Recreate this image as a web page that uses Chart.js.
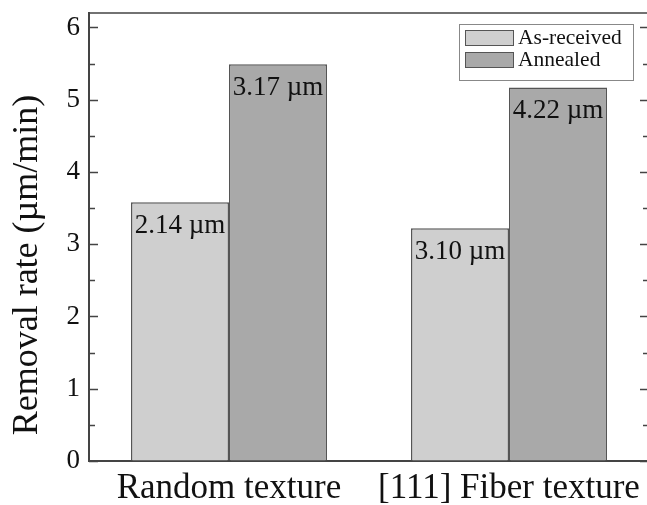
<!DOCTYPE html>
<html>
<head>
<meta charset="utf-8">
<script src="https://cdn.jsdelivr.net/npm/chart.js@4"></script>
<style>
  html, body { margin: 0; padding: 0; overflow: hidden; background: #fff; }
  canvas { display: block; }
</style>
</head>
<body>
<canvas id="myChart" width="652" height="505"></canvas>
<script>
// datos del grafico
const categories = ['Random texture', '[111] Fiber texture'];
const seriesNames = ['As-received', 'Annealed'];
const asReceived = [3.58, 3.22];
const annealed = [5.49, 5.17];
const asReceivedLabels = ['2.14 \u00b5m', '3.10 \u00b5m'];
const annealedLabels = ['3.17 \u00b5m', '4.22 \u00b5m'];
const yTicks = [0, 1, 2, 3, 4, 5, 6];
const yTitle = 'Removal rate (\u00b5m/min)';

const serif = '"Liberation Serif", "Times New Roman", serif';
const axisColor = '#444';

// ticks hacia adentro, marco, titulo del eje y, leyenda y etiquetas de las barras
const extras = {
    id: 'extras',
    afterDraw(chart) {
        const ctx = chart.ctx;
        const area = chart.chartArea;
        const y = chart.scales.y;
        ctx.save();

        // marco superior y derecho
        ctx.strokeStyle = axisColor;
        ctx.lineWidth = 1.5;
        ctx.beginPath();
        ctx.moveTo(area.left, area.top);
        ctx.lineTo(area.right, area.top);
        ctx.lineTo(area.right, area.bottom);
        ctx.stroke();

        // ticks mayores y menores
        for (let v = 0; v <= 6; v += 0.5) {
            const py = Math.round(y.getPixelForValue(v)) + 0.5;
            const len = Number.isInteger(v) ? 9 : 6;
            ctx.beginPath();
            ctx.moveTo(area.left, py);
            ctx.lineTo(area.left + len, py);
            ctx.moveTo(area.right, py);
            ctx.lineTo(area.right - len, py);
            ctx.stroke();
        }

        // titulo del eje y
        ctx.fillStyle = '#111';
        ctx.font = '36px ' + serif;
        ctx.textAlign = 'center';
        ctx.textBaseline = 'middle';
        ctx.translate(28, 265);
        ctx.rotate(-Math.PI / 2);
        ctx.fillText(yTitle, 0, 0);
        ctx.setTransform(1, 0, 0, 1, 0, 0);

        // etiquetas dentro de las barras
        const allLabels = [asReceivedLabels, annealedLabels];
        ctx.font = '27px ' + serif;
        ctx.textAlign = 'center';
        ctx.textBaseline = 'alphabetic';
        chart.data.datasets.forEach((ds, i) => {
            chart.getDatasetMeta(i).data.forEach((bar, j) => {
                ctx.fillText(allLabels[i][j], bar.x, bar.y + 31);
            });
        });

        // leyenda
        const lx = 459, ly = 24, lw = 174, lh = 56;
        ctx.fillStyle = '#fff';
        ctx.fillRect(lx, ly, lw, lh);
        ctx.strokeStyle = '#888';
        ctx.lineWidth = 1;
        ctx.strokeRect(lx + 0.5, ly + 0.5, lw, lh);
        ctx.font = '21.5px ' + serif;
        ctx.textAlign = 'left';
        ctx.textBaseline = 'middle';
        chart.data.datasets.forEach((ds, i) => {
            const ry = ly + 6 + i * 22;
            ctx.fillStyle = ds.backgroundColor;
            ctx.fillRect(lx + 6, ry, 48, 15);
            ctx.strokeStyle = '#555';
            ctx.strokeRect(lx + 6.5, ry + 0.5, 48, 15);
            ctx.fillStyle = '#111';
            ctx.fillText(ds.label, lx + 59, ry + 8);
        });
        ctx.restore();
    }
};

const ctx = document.getElementById('myChart');
const myChart = new Chart(ctx, {
    type: 'bar',
    data: {
        labels: categories,
        datasets: [{
            label: seriesNames[0],
            data: asReceived,
            backgroundColor: '#cfcfcf',
            borderColor: '#555',
            borderWidth: 1.5
        }, {
            label: seriesNames[1],
            data: annealed,
            backgroundColor: '#a9a9a9',
            borderColor: '#555',
            borderWidth: 1.5
        }]
    },
    options: {
        responsive: false,
        animation: false,
        devicePixelRatio: 1,
        categoryPercentage: 0.7,
        barPercentage: 1.0,
        layout: { padding: { top: 13, right: 3, left: 0, bottom: 0 } },
        plugins: {
            legend: { display: false },
            tooltip: { enabled: false }
        },
        scales: {
            x: {
                offset: true,
                grid: { display: true, drawOnChartArea: false, drawTicks: false },
                border: { display: true, color: axisColor, width: 2 },
                ticks: {
                    color: '#111',
                    padding: 7,
                    maxRotation: 0,
                    font: { family: serif, size: 35 }
                },
                afterFit: (scale) => {
                    scale.height = 44;
                    scale.paddingLeft = 0;
                    scale.paddingRight = 0;
                }
            },
            y: {
                min: 0,
                max: 6.2,
                grid: { display: true, drawOnChartArea: false, drawTicks: false },
                border: { display: true, color: axisColor, width: 2 },
                afterBuildTicks: (scale) => { scale.ticks = yTicks.map(v => ({ value: v })); },
                ticks: {
                    color: '#111',
                    padding: 9,
                    font: { family: serif, size: 27 }
                },
                afterFit: (scale) => {
                    scale.width = 89;
                    scale.paddingTop = 0;
                    scale.paddingBottom = 0;
                }
            }
        }
    },
    plugins: [extras]
});
</script>
</body>
</html>
